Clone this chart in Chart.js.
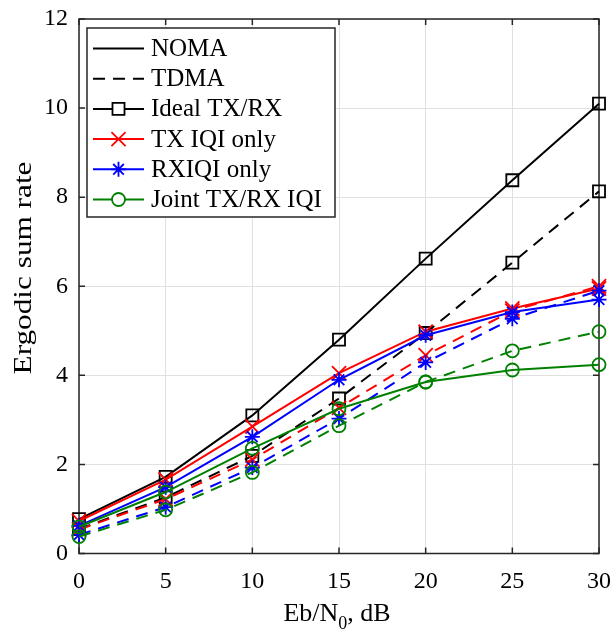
<!DOCTYPE html>
<html>
<head>
<meta charset="utf-8">
<script src="https://cdn.jsdelivr.net/npm/chart.js@4.4.0/dist/chart.umd.min.js"></script>
<style>
  html, body { margin: 0; padding: 0; background: #fff; }
  #wrap { width: 616px; height: 631px; }
</style>
</head>
<body>
<div id="wrap"><canvas id="c" width="616" height="631"></canvas></div>
<script>
// ── datos ──
const EBN0 = [0, 5, 10, 15, 20, 25, 30];

const NOMA_IDEAL = [0.77, 1.72, 3.10, 4.80, 6.62, 8.38, 10.10];
const TDMA_IDEAL = [0.55, 1.26, 2.19, 3.48, 4.95, 6.53, 8.13];
const NOMA_TX    = [0.73, 1.66, 2.85, 4.05, 4.98, 5.50, 5.95];
const TDMA_TX    = [0.54, 1.22, 2.11, 3.27, 4.45, 5.45, 6.00];
const NOMA_RX    = [0.62, 1.49, 2.62, 3.90, 4.90, 5.42, 5.70];
const TDMA_RX    = [0.42, 1.04, 1.93, 3.03, 4.29, 5.27, 5.90];
const NOMA_JOINT = [0.60, 1.38, 2.36, 3.25, 3.85, 4.12, 4.24];
const TDMA_JOINT = [0.38, 0.98, 1.82, 2.87, 3.85, 4.55, 4.98];

const X_TICKS = [0, 5, 10, 15, 20, 25, 30];
const Y_TICKS = [0, 2, 4, 6, 8, 10, 12];

const LEGEND_LABELS = ['NOMA', 'TDMA', 'Ideal TX/RX', 'TX IQI only', 'RXIQI only', 'Joint TX/RX IQI'];
const Y_TITLE = 'Ergodic sum rate';

const SERIF = '"Liberation Serif", "Times New Roman", serif';
const AXIS = '#262626';
const RED = '#ff0000', BLUE = '#0000ff', GREEN = '#008000', BLACK = '#000000';
const DASH = [12, 8];

// marcadores estilo MATLAB
const MARK = {
    square: { pointStyle: 'rect', pointRadius: 8.5 },
    x:      { pointStyle: 'crossRot', pointRadius: 10 },
    star:   { pointStyle: 'star', pointRadius: 7.5 },
    circle: { pointStyle: 'circle', pointRadius: 6.5 }
};

function pts(arr) {
    return EBN0.map((v, i) => ({ x: v, y: arr[i] }));
}

function serie(label, arr, color, mark, dashed) {
    return Object.assign({
        label: label,
        data: pts(arr),
        borderColor: color,
        backgroundColor: 'rgba(0,0,0,0)',
        pointBorderColor: color,
        pointBackgroundColor: 'rgba(0,0,0,0)',
        pointBorderWidth: 1.8,
        pointHoverRadius: 0,
        borderWidth: 2,
        borderDash: dashed ? DASH : [],
        tension: 0,
        fill: false,
        clip: false
    }, MARK[mark]);
}

// dibujar un marcador para la leyenda
function drawMarker(ctx, mark, x, y, color) {
    const r = MARK[mark].pointRadius;
    ctx.save();
    ctx.strokeStyle = color;
    ctx.lineWidth = 1.8;
    ctx.setLineDash([]);
    ctx.beginPath();
    if (mark === 'square') {
        const s = r * Math.SQRT1_2;
        ctx.rect(x - s, y - s, 2 * s, 2 * s);
    } else if (mark === 'circle') {
        ctx.arc(x, y, r, 0, Math.PI * 2);
    } else {
        const d = r * Math.SQRT1_2;
        ctx.moveTo(x - d, y - d); ctx.lineTo(x + d, y + d);
        ctx.moveTo(x - d, y + d); ctx.lineTo(x + d, y - d);
        if (mark === 'star') {
            ctx.moveTo(x - r, y); ctx.lineTo(x + r, y);
            ctx.moveTo(x, y - r); ctx.lineTo(x, y + r);
        }
    }
    ctx.fillStyle = '#fff';
    if (mark === 'square' || mark === 'circle') ctx.fill();
    ctx.stroke();
    ctx.restore();
}

// caja de ejes + marcas hacia dentro
const frame = {
    id: 'frame',
    beforeDatasetsDraw(chart) {
        const { ctx, chartArea: a, scales: { x, y } } = chart;
        const tl = 6;
        ctx.save();
        ctx.strokeStyle = AXIS;
        ctx.lineWidth = 1.5;
        ctx.beginPath();
        X_TICKS.forEach(v => {
            const px = x.getPixelForValue(v);
            ctx.moveTo(px, a.bottom); ctx.lineTo(px, a.bottom - tl);
            ctx.moveTo(px, a.top); ctx.lineTo(px, a.top + tl);
        });
        Y_TICKS.forEach(v => {
            const py = y.getPixelForValue(v);
            ctx.moveTo(a.left, py); ctx.lineTo(a.left + tl, py);
            ctx.moveTo(a.right, py); ctx.lineTo(a.right - tl, py);
        });
        ctx.stroke();
        ctx.strokeRect(a.left, a.top, a.right - a.left, a.bottom - a.top);
        ctx.restore();
    },
    afterDraw(chart) {
        const { ctx, chartArea: a } = chart;
        ctx.save();
        ctx.fillStyle = BLACK;

        // título eje Y
        ctx.save();
        ctx.translate(24, 268);
        ctx.rotate(-Math.PI / 2);
        ctx.scale(1.25, 1);
        ctx.font = '25px ' + SERIF;
        ctx.textAlign = 'center';
        ctx.textBaseline = 'middle';
        ctx.fillText(Y_TITLE, 0, 0);
        ctx.restore();

        // título eje X con subíndice
        const main = '26px ' + SERIF, sub = '18px ' + SERIF;
        ctx.font = main;
        const w1 = ctx.measureText('Eb/N').width;
        const w3 = ctx.measureText(', dB').width;
        ctx.font = sub;
        const w2 = ctx.measureText('0').width;
        let xx = (a.left + a.right) / 2 - (w1 + w2 + w3) / 2 - 2;
        const base = 621;
        ctx.textBaseline = 'alphabetic';
        ctx.textAlign = 'left';
        ctx.font = main;
        ctx.fillText('Eb/N', xx, base);
        xx += w1;
        ctx.font = sub;
        ctx.fillText('0', xx, base + 8);
        xx += w2;
        ctx.font = main;
        ctx.fillText(', dB', xx, base);

        // leyenda
        const L = { x: 87, y: 28, w: 248, h: 189 };
        ctx.fillStyle = '#fff';
        ctx.fillRect(L.x, L.y, L.w, L.h);
        ctx.strokeStyle = AXIS;
        ctx.lineWidth = 1.5;
        ctx.strokeRect(L.x, L.y, L.w, L.h);

        const items = [
            { color: BLACK, dash: [], mark: null },
            { color: BLACK, dash: DASH, mark: null },
            { color: BLACK, dash: [], mark: 'square' },
            { color: RED, dash: [], mark: 'x' },
            { color: BLUE, dash: [], mark: 'star' },
            { color: GREEN, dash: [], mark: 'circle' }
        ];
        ctx.font = '25px ' + SERIF;
        ctx.textBaseline = 'middle';
        items.forEach((it, i) => {
            const ry = 48.5 + i * 30.2;
            ctx.save();
            ctx.strokeStyle = it.color;
            ctx.lineWidth = 2;
            ctx.setLineDash(it.dash);
            ctx.beginPath();
            ctx.moveTo(93, ry); ctx.lineTo(144, ry);
            ctx.stroke();
            ctx.restore();
            if (it.mark) drawMarker(ctx, it.mark, 118.5, ry, it.color);
            ctx.fillStyle = BLACK;
            ctx.fillText(LEGEND_LABELS[i], 151, ry + 1);
        });
        ctx.restore();
    }
};

new Chart(document.getElementById('c'), {
    type: 'line',
    data: {
        datasets: [
            serie('Joint NOMA', NOMA_JOINT, GREEN, 'circle', false),
            serie('Joint TDMA', TDMA_JOINT, GREEN, 'circle', true),
            serie('RX NOMA', NOMA_RX, BLUE, 'star', false),
            serie('RX TDMA', TDMA_RX, BLUE, 'star', true),
            serie('TX NOMA', NOMA_TX, RED, 'x', false),
            serie('TX TDMA', TDMA_TX, RED, 'x', true),
            serie('Ideal NOMA', NOMA_IDEAL, BLACK, 'square', false),
            serie('Ideal TDMA', TDMA_IDEAL, BLACK, 'square', true)
        ]
    },
    options: {
        responsive: false,
        animation: false,
        devicePixelRatio: 1,
        layout: { padding: { top: 19, right: 17, left: 0, bottom: 0 } },
        plugins: {
            legend: { display: false },
            tooltip: { enabled: false }
        },
        scales: {
            x: {
                type: 'linear',
                min: 0, max: 30,
                afterFit: s => {
                    s.height = 77.5;
                    s.paddingLeft = 0; s.paddingRight = 0;
                },
                ticks: {
                    stepSize: 5,
                    padding: 14,
                    color: BLACK,
                    font: { family: SERIF, size: 24 }
                },
                grid: { color: '#e0e0e0', lineWidth: 1, drawTicks: false },
                border: { display: false }
            },
            y: {
                type: 'linear',
                min: 0, max: 12,
                afterFit: s => {
                    s.width = 79;
                    s.paddingTop = 0; s.paddingBottom = 0;
                },
                ticks: {
                    stepSize: 2,
                    padding: 11,
                    color: BLACK,
                    font: { family: SERIF, size: 24 }
                },
                grid: { color: '#e0e0e0', lineWidth: 1, drawTicks: false },
                border: { display: false }
            }
        }
    },
    plugins: [frame]
});
</script>
</body>
</html>
